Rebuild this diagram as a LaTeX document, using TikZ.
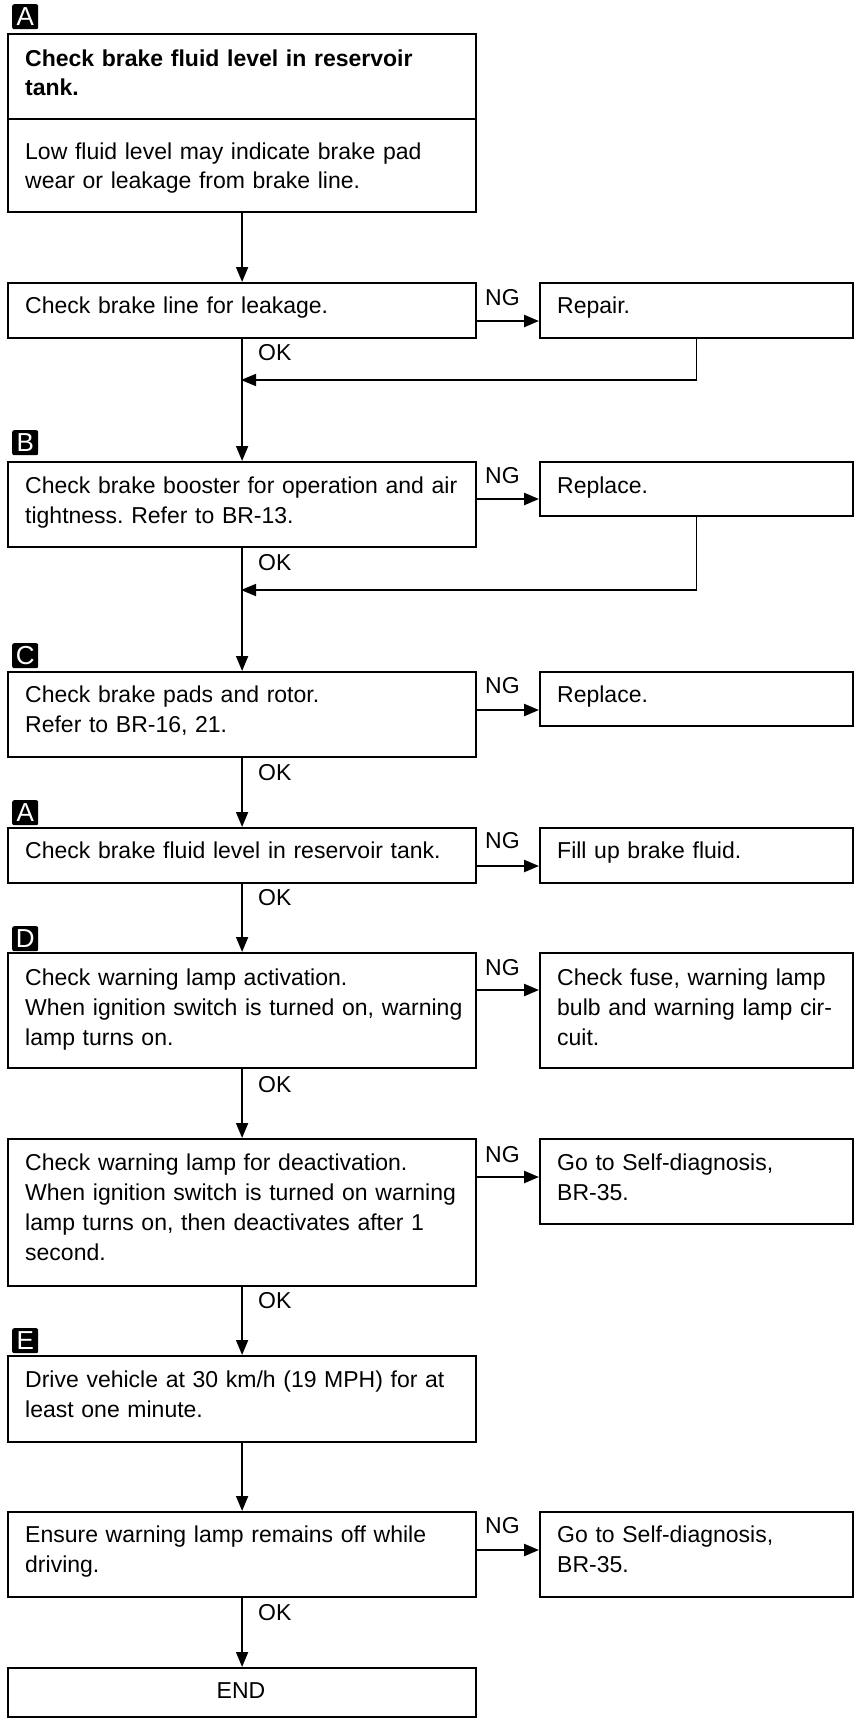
\documentclass[tikz,border=0pt]{standalone}
\usepackage{fontspec}
\setmainfont{Liberation Sans}
\usetikzlibrary{arrows.meta,calc}
\frenchspacing
\begin{document}
\begin{tikzpicture}[x=1pt,y=-1pt,
  box/.style={draw, line width=2.2pt, inner sep=0pt, anchor=north west},
  mainbox/.style={box, minimum width=468pt},
  sidebox/.style={box, minimum width=313pt},
  txt/.style={anchor=base west, inner sep=0pt, align=left, text width=445pt, font=\fontsize{23}{30}\selectfont},
  stxt/.style={txt, text width=290pt},
  lbl/.style={anchor=base west, inner sep=0pt, font=\fontsize{23}{28}\selectfont},
  tag/.style={anchor=north west, fill=black, text=white, inner sep=0pt, minimum width=26pt, minimum height=25pt, rounded corners=2pt, font=\fontsize{26}{26}\selectfont},
  conn/.style={line width=1.7pt, -{Triangle[length=15pt,width=12pt]}},
  ngarr/.style={line width=2.4pt, -{Triangle[length=15pt,width=12pt]}},
  line/.style={line width=1.7pt}
]
\useasboundingbox (0,0) rectangle (856,1718);

% tags
\node[tag] (tA1) at (12,4) {A};
\node[tag] (tB) at (12,430) {B};
\node[tag] (tC) at (12,643) {C};
\node[tag] (tA2) at (12,800) {A};
\node[tag] (tD) at (12,926) {D};
\node[tag] (tE) at (12,1328) {E};

% main boxes
\node[mainbox, minimum height=178pt] (b1) at (7,33) {};
\draw[line width=2.2pt] (b1.west |- 0,119) -- (b1.east |- 0,119);
\node[txt, font=\fontsize{23}{29}\selectfont\bfseries] (t1a) at (25,67) {Check brake fluid level in reservoir\\tank.};
\node[txt, font=\fontsize{23}{29}\selectfont] (t1b) at (25,159) {Low fluid level may indicate brake pad\\wear or leakage from brake line.};

\node[mainbox, minimum height=55pt] (b2) at (7,282) {};
\node[txt] (t2) at (25,313) {Check brake line for leakage.};
\node[sidebox, minimum height=55pt] (r1) at (539,282) {};
\node[stxt] (s1) at (557,313) {Repair.};

\node[mainbox, minimum height=85pt] (b3) at (7,461) {};
\node[txt] (t3) at (25,493) {Check brake booster for operation and air\\tightness. Refer to BR-13.};
\node[sidebox, minimum height=54pt] (r2) at (539,461) {};
\node[stxt] (s2) at (557,493) {Replace.};

\node[mainbox, minimum height=85pt] (b4) at (7,671) {};
\node[txt] (t4) at (25,702) {Check brake pads and rotor.\\Refer to BR-16, 21.};
\node[sidebox, minimum height=54pt] (r3) at (539,671) {};
\node[stxt] (s3) at (557,702) {Replace.};

\node[mainbox, minimum height=55pt] (b5) at (7,827) {};
\node[txt] (t5) at (25,858) {Check brake fluid level in reservoir tank.};
\node[sidebox, minimum height=55pt] (r4) at (539,827) {};
\node[stxt] (s4) at (557,858) {Fill up brake fluid.};

\node[mainbox, minimum height=115pt] (b6) at (7,952) {};
\node[txt] (t6) at (25,985) {Check warning lamp activation.\\When ignition switch is turned on, warning\\lamp turns on.};
\node[sidebox, minimum height=115pt] (r5) at (539,952) {};
\node[stxt] (s5) at (557,985) {Check fuse, warning lamp\\bulb and warning lamp cir-\\cuit.};

\node[mainbox, minimum height=147pt] (b7) at (7,1138) {};
\node[txt] (t7) at (25,1170) {Check warning lamp for deactivation.\\When ignition switch is turned on warning\\lamp turns on, then deactivates after 1\\second.};
\node[sidebox, minimum height=85pt] (r6) at (539,1138) {};
\node[stxt] (s6) at (557,1170) {Go to Self-diagnosis,\\BR-35.};

\node[mainbox, minimum height=86pt] (b8) at (7,1355) {};
\node[txt] (t8) at (25,1387) {Drive vehicle at 30 km/h (19 MPH) for at\\least one minute.};

\node[mainbox, minimum height=85pt] (b9) at (7,1511) {};
\node[txt] (t9) at (25,1542) {Ensure warning lamp remains off while\\driving.};
\node[sidebox, minimum height=85pt] (r7) at (539,1511) {};
\node[stxt] (s7) at (557,1542) {Go to Self-diagnosis,\\BR-35.};

\node[mainbox, minimum height=49pt] (b10) at (7,1667) {};
\node[anchor=base, inner sep=0pt, font=\fontsize{23}{30}\selectfont] (tend) at (241,1698) {END};

% NG labels
\node[lbl] (ng1) at (485,305) {NG};
\node[lbl] (ng2) at (485,483) {NG};
\node[lbl] (ng3) at (485,693) {NG};
\node[lbl] (ng4) at (485,848) {NG};
\node[lbl] (ng5) at (485,975) {NG};
\node[lbl] (ng6) at (485,1162) {NG};
\node[lbl] (ng7) at (485,1533) {NG};

% OK labels
\node[lbl] (ok1) at (258,360) {OK};
\node[lbl] (ok2) at (258,570) {OK};
\node[lbl] (ok3) at (258,780) {OK};
\node[lbl] (ok4) at (258,905) {OK};
\node[lbl] (ok5) at (258,1092) {OK};
\node[lbl] (ok6) at (258,1308) {OK};
\node[lbl] (ok7) at (258,1620) {OK};

% join points
\coordinate (j1) at (241,380);
\coordinate (j2) at (241,590);

% main flow
\draw[conn] (b1.south) -- (b2.north);
\draw[conn] (b2.south) -- (b3.north);
\draw[conn] (b3.south) -- (b4.north);
\draw[conn] (b4.south) -- (b5.north);
\draw[conn] (b5.south) -- (b6.north);
\draw[conn] (b6.south) -- (b7.north);
\draw[conn] (b7.south) -- (b8.north);
\draw[conn] (b8.south) -- (b9.north);
\draw[conn] (b9.south) -- (b10.north);

% return lines
\draw[conn] (r1.south) |- (j1);
\draw[conn] (r2.south) |- (j2);

% NG arrows
\draw[ngarr] (b2.east |- 0,321) -- (r1.west |- 0,321);
\draw[ngarr] (b3.east |- 0,499) -- (r2.west |- 0,499);
\draw[ngarr] (b4.east |- 0,710) -- (r3.west |- 0,710);
\draw[ngarr] (b5.east |- 0,866) -- (r4.west |- 0,866);
\draw[ngarr] (b6.east |- 0,990) -- (r5.west |- 0,990);
\draw[ngarr] (b7.east |- 0,1177) -- (r6.west |- 0,1177);
\draw[ngarr] (b9.east |- 0,1550) -- (r7.west |- 0,1550);
\end{tikzpicture}
\end{document}
